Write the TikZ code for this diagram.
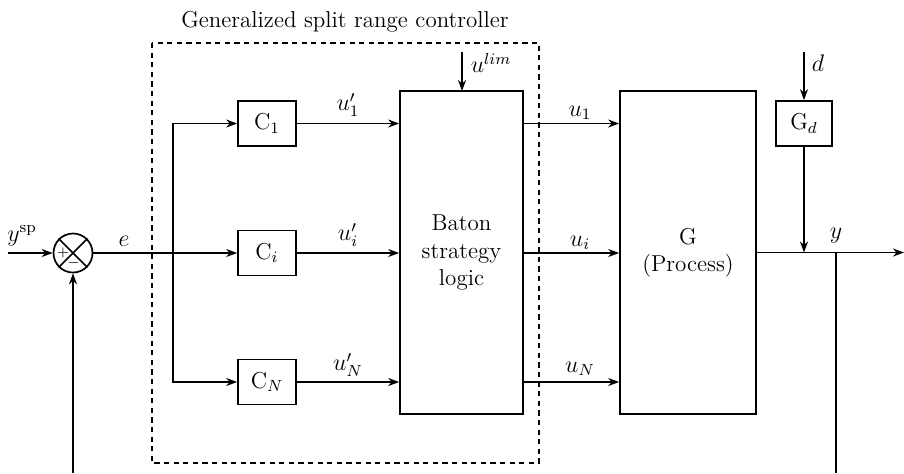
\documentclass[tikz,border=0pt]{standalone}
\usetikzlibrary{arrows.meta}
\begin{document}
\begin{tikzpicture}[x=0.5pt,y=-0.5pt, line width=0.85pt,
  font=\fontsize{11.5pt}{13.6pt}\selectfont,
  >={Stealth[length=5.5pt,width=4pt]},
  blk/.style={draw, rectangle, inner sep=0pt, align=center},
  cbox/.style={blk, minimum width=29pt, minimum height=22.5pt},
  lbl/.style={inner sep=0pt},
  ctrl/.style={draw, dash pattern=on 2.6pt off 2.2pt}]
\useasboundingbox (0,0) rectangle (904,473);

% summing junction
\node[draw, circle, minimum size=19.5pt, inner sep=0pt] (sum) at (73,253) {};
\draw (sum.north west) -- (sum.south east) (sum.north east) -- (sum.south west);
\node[lbl, font=\scriptsize] (plus) at (63,253) {$+$};
\node[lbl, font=\scriptsize] (minus) at (73.5,263) {$-$};

% controllers
\node[cbox] (c1) at (267,123.5) {C$_1$};
\node[cbox] (ci) at (267,253) {C$_i$};
\node[cbox] (cn) at (267,382) {C$_N$};

% baton logic and process
\node[blk, minimum width=61.5pt, minimum height=161.5pt] (baton) at (461.5,252.5) {Baton\\strategy\\logic};
\node[blk, minimum width=68pt, minimum height=161.5pt] (g) at (688,252.5) {G\\(Process)};
\node[cbox, minimum width=28pt] (gd) at (804,123.5) {G$_d$};

% dashed controller box
\draw[ctrl] (152,43) rectangle (539,463);
\node[lbl] (title) at (345,22) {Generalized split range controller};

% coordinates
\coordinate (ysp) at (8,253);
\coordinate (br) at (173,253);
\coordinate (ulimtop) at (462,52);
\coordinate (ulimbot) at (462,91);
\coordinate (dtop) at (804,52);
\coordinate (ymerge) at (804,252.5);
\coordinate (ytap) at (836,252.5);
\coordinate (yend) at (904,252.5);
\coordinate (fbr) at (836,473);
\coordinate (fbl) at (73,473);

% signals
\draw[->] (ysp) -- (sum.west);
\node[lbl] (yspl) at (22,236) {$y^{\mathrm{sp}}$};
\draw (sum.east) -- (br);
\node[lbl] (el) at (124,241) {$e$};
\draw[->] (br) -- (ci.west);
\draw[->] (br) |- (c1.west);
\draw[->] (br) |- (cn.west);

\draw[->] (c1.east) -- (c1.east -| baton.west);
\draw[->] (ci.east) -- (ci.east -| baton.west);
\draw[->] (cn.east) -- (cn.east -| baton.west);
\node[lbl] (up1) at (348,105) {$u'_1$};
\node[lbl] (upi) at (348,235) {$u'_i$};
\node[lbl] (upn) at (348,365) {$u'_N$};

\draw[->] (ulimtop) -- (ulimbot);
\node[lbl, anchor=west] (ulim) at (470,63) {$u^{lim}$};

\draw[->] (c1.east -| baton.east) -- (c1.east -| g.west);
\draw[->] (ci.east -| baton.east) -- (ci.east -| g.west);
\draw[->] (cn.east -| baton.east) -- (cn.east -| g.west);
\node[lbl] (u1) at (580,113) {$u_1$};
\node[lbl] (ui) at (580,243) {$u_i$};
\node[lbl] (un) at (580,369) {$u_N$};

\draw[->] (dtop) -- (gd.north);
\node[lbl] (dl) at (818,63) {$d$};
\draw[->] (gd.south) -- (ymerge);
\draw[->] (g.east |- yend) -- (yend);
\node[lbl] (yl) at (836,236) {$y$};
\draw (ytap) -- (fbr);
\draw[->] (fbl) -- (sum.south);
\end{tikzpicture}
\end{document}
